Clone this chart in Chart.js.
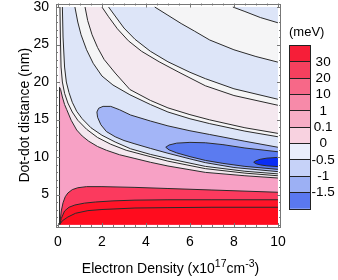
<!DOCTYPE html>
<html>
<head>
<meta charset="utf-8">
<script src="https://cdn.jsdelivr.net/npm/chart.js@4.4.0/dist/chart.umd.min.js"></script>
<style>
  html, body { margin: 0; padding: 0; background: #fff; }
  #wrap { position: relative; width: 338px; height: 280px; }
  #plot { position: absolute; left: 0; top: 0; }
  #bar { position: absolute; left: 277px; top: 0; }
</style>
</head>
<body>
<div id="wrap">
  <canvas id="plot" width="338" height="280"></canvas>
  <canvas id="bar" width="61" height="280"></canvas>
</div>
<script>
const family = "'Liberation Sans', Arial, Helvetica, sans-serif";
Chart.defaults.font.family = family;

// axes
const xTicks = [0, 2, 4, 6, 8, 10];
const yTicks = [5, 10, 15, 20, 25, 30];
const xRange = [0.05, 10];   // density covered by the map
const yRange = [1, 30];      // distance covered by the map

// contour lines: [density, distance]
const level30 = [[0.08,1.0],[0.2,1.5],[0.45,2.0],[0.8,2.5],[1.36,2.85],[2,3.0],[3.5,3.2],[5,3.25],[7,3.3],[10,3.3]];
const level20 = [[0.08,1.0],[0.15,1.8],[0.3,2.8],[0.5,3.3],[0.77,3.6],[1.2,3.85],[1.7,4.0],[2.5,4.15],[3.5,4.25],[5,4.3],[7,4.3],[10,4.3]];
const level10 = [[0.08,1.0],[0.1,1.5],[0.15,2.8],[0.23,3.9],[0.33,4.7],[0.45,5.2],[0.65,5.65],[0.9,5.9],[1.3,6.05],[2,6.05],[3.5,5.95],[5,5.8],[7,5.6],[10,5.3]];
const level1 = [[0.07,1.0],[0.07,19.3],[0.12,19.0],[0.2,18.0],[0.3,17.0],[0.4,16.3],[0.6,14.9],[0.85,13.6],[1.1,12.8],[1.4,12.1],[1.8,11.4],[2.2,10.9],[2.8,10.3],[3.5,9.8],[4.2,9.3],[5,8.8],[6,8.3],[6.7,7.95],[8.5,7.5],[10,7.2]];
const level01Low = [[0.09,30],[0.11,26],[0.14,22],[0.2,20],[0.3,18.5],[0.45,17.2],[0.65,16.0],[0.9,14.9],[1.3,13.7],[1.8,12.6],[2.4,11.7],[3.1,10.9],[4,10.2],[5,9.45],[6.7,8.45],[8.5,7.85],[10,7.5]];
const level0Low = [[0.2,30],[0.23,26],[0.3,22],[0.38,20],[0.5,18.6],[0.65,17.3],[0.85,16.1],[1.1,15.1],[1.5,13.9],[2.0,12.9],[2.6,12.0],[3.3,11.1],[4.2,10.35],[5,9.8],[6.7,8.75],[8.5,8.1],[10,7.75]];
const level0Mid = [[0.77,30],[0.9,28],[1.05,26.3],[1.3,24.3],[1.6,22.5],[2.0,20.8],[2.5,19.6],[3.27,18.3],[4.2,17.0],[5,16.0],[6,15.1],[6.9,14.45],[8.5,13.45],[10,12.7]];
const level01Mid = [[1.23,30],[1.35,28.2],[1.55,26.3],[1.8,24.6],[2.1,23.0],[2.6,21.2],[3.27,19.0],[4.2,17.55],[5,16.55],[6,15.65],[6.9,14.95],[8.5,13.9],[10,13.15]];
const level01High = [[2.0,30],[2.3,28.7],[2.7,27.1],[3.2,25.5],[3.8,24.1],[4.6,22.7],[5.5,21.3],[6.7,19.5],[8,18.2],[10,16.9]];
const level0High = [[2.3,30],[2.6,28.8],[3.0,27.2],[3.5,25.7],[4.2,24.1],[5,22.7],[6,21.3],[6.7,20.45],[8,19.1],[10,17.7]];
const level0Top = [[4.4,30],[5,28.9],[5.6,27.8],[6.2,26.8],[6.9,25.6],[8,24.3],[9,23.4],[10,22.65]];
const level0Corner = [[7.95,30],[8.5,29.4],[9.2,28.6],[10,27.9]];
// closed tongues of negative values (tip first)
const levelM05Up = [[1.77,16.0],[1.85,16.5],[2.05,16.75],[2.4,16.75],[2.8,16.3],[3.3,15.6],[4.2,14.8],[5,14.15],[6,13.5],[6.9,13.0],[8.5,12.1],[10,11.3]];
const levelM05Down = [[1.77,16.0],[1.8,15.3],[1.95,14.3],[2.2,13.4],[2.6,12.7],[3.0,12.2],[3.5,11.75],[4.2,11.15],[5,10.5],[6,9.75],[6.7,9.25],[8,8.6],[10,8.05]];
const levelM1Up = [[4.9,11.3],[5.05,11.6],[5.4,11.85],[6,11.95],[6.7,11.9],[7.5,11.65],[8.5,11.2],[10,10.7]];
const levelM1Down = [[4.9,11.3],[5.05,10.95],[5.4,10.55],[6,10.05],[6.7,9.55],[7.5,9.15],[8.5,8.75],[10,8.35]];
const levelM15Up = [[8.9,9.3],[9.0,9.5],[9.2,9.7],[9.5,9.85],[10,9.95]];
const levelM15Down = [[8.9,9.3],[9.0,9.1],[9.2,8.95],[9.5,8.82],[10,8.72]];

// colour key
const legendLevels = ["30", "20", "10", "1", "0.1", "0", "-0.5", "-1", "-1.5"];
const legendColors = ["#f61e38", "#f6405e", "#f76888", "#f78aa9", "#f7adc5", "#f8d2e0", "#eaeefb", "#c6d2f8", "#9cb0f4", "#5a78f0"];

const fillColors = {
  negHalf: "#dde5f8", zero: "#f5f5f6", tenth: "#f4e8ef", one: "#f7a1c5",
  ten: "#fb3a5e", twenty: "#ff1428", thirty: "#ff0c1e",
  m05: "#a3b5f7", m1: "#5b7bf0", m15: "#0a2df5"
};

const [x0, x1] = xRange, [y0, y1] = yRange;
const pts = a => a.map(([x, y]) => ({x, y}));
const under = c => [...c, [x1, y0]];
const underFromTop = c => [[x0, y1], ...c, [x1, y0], [x0, y0]];
const between = (lo, hi) => [...lo, ...hi.slice().reverse()];
const area = (a, color, order) => ({data: pts(a), showLine: true, fill: 'shape', backgroundColor: color,
  borderWidth: 0, borderColor: 'transparent', pointRadius: 0, order});
const contour = a => ({data: pts(a), showLine: true, fill: false, borderColor: '#2b2b2b',
  borderWidth: 1, pointRadius: 0, order: 0});

const datasets = [
  area([[x0, y0], [x1, y0], [x1, y1], [x0, y1]], fillColors.negHalf, 30),
  area(underFromTop(level0Low), fillColors.zero, 29),
  area(between(level0Mid, level0High), fillColors.zero, 29),
  area(between(level0Top, level0Corner), fillColors.zero, 29),
  area(underFromTop(level01Low), fillColors.tenth, 28),
  area(between(level01Mid, level01High), fillColors.tenth, 28),
  area(under(level1), fillColors.one, 27),
  area(under(level10), fillColors.ten, 26),
  area(under(level20), fillColors.twenty, 25),
  area(under(level30), fillColors.thirty, 24),
  area(between(levelM05Up, levelM05Down), fillColors.m05, 23),
  area(between(levelM1Up, levelM1Down), fillColors.m1, 22),
  area(between(levelM15Up, levelM15Down), fillColors.m15, 21),
];
[level30, level20, level10, level1, level01Low, level0Low, level0Mid, level01Mid, level01High, level0High, level0Top, level0Corner]
  .forEach(c => datasets.push(contour(c)));
[[levelM05Up, levelM05Down], [levelM1Up, levelM1Down], [levelM15Up, levelM15Down]]
  .forEach(([u, d]) => datasets.push(contour([...u.slice().reverse(), ...d.slice(1)])));

const framePlugin = {
  id: 'frame',
  afterDatasetsDraw(chart) {
    const {ctx, chartArea: a, scales: {x, y}} = chart;
    ctx.save();
    ctx.strokeStyle = '#777';
    ctx.lineWidth = 1;
    ctx.strokeRect(Math.round(a.left) + 0.5, Math.round(a.top) + 0.5,
      Math.round(a.right - a.left) - 1, Math.round(a.bottom - a.top) - 1);
    ctx.beginPath();
    for (let v = 0; v <= 10; v += 0.5) {
      const px = Math.round(x.getPixelForValue(v)) + 0.5;
      const len = v % 2 === 0 ? 4 : 2;
      ctx.moveTo(px, a.bottom); ctx.lineTo(px, a.bottom - len);
      ctx.moveTo(px, a.top); ctx.lineTo(px, a.top + len);
    }
    for (let v = 1; v <= 30; v += 1) {
      const py = Math.round(y.getPixelForValue(v)) + 0.5;
      const len = v % 5 === 0 ? 4 : 2;
      ctx.moveTo(a.left, py); ctx.lineTo(a.left + len, py);
      ctx.moveTo(a.right, py); ctx.lineTo(a.right - len, py);
    }
    ctx.stroke();
    ctx.restore();
  },
  afterDraw(chart) {
    // x title with superscripts
    const {ctx, chartArea: a} = chart;
    const parts = [['Electron Density (x10', 14, 0], ['17', 10.5, -6], ['cm', 14, 0], ['-3', 10.5, -6], [')', 14, 0]];
    ctx.save();
    ctx.fillStyle = '#000';
    ctx.textBaseline = 'alphabetic';
    let total = 0;
    parts.forEach(([t, s]) => { ctx.font = s + 'px ' + family; total += ctx.measureText(t).width; });
    let xx = (a.left + a.right) / 2 + 2 - total / 2;
    parts.forEach(([t, s, dy]) => {
      ctx.font = s + 'px ' + family;
      ctx.fillText(t, xx, 273 + dy);
      xx += ctx.measureText(t).width;
    });
    ctx.restore();
  }
};

new Chart(document.getElementById('plot'), {
  type: 'scatter',
  data: {datasets},
  options: {
    responsive: false,
    animation: false,
    events: [],
    layout: {padding: {left: 0, right: 57, top: 3.5, bottom: 0}},
    plugins: {legend: {display: false}, tooltip: {enabled: false}},
    scales: {
      x: {
        type: 'linear', min: -0.09, max: 10.14,
        afterBuildTicks: s => { s.ticks = xTicks.map(v => ({value: v})); },
        afterFit: s => { s.height = 53; s.paddingLeft = 0; s.paddingRight = 0; },
        grid: {display: false, drawTicks: false},
        border: {display: false},
        ticks: {color: '#000', font: {size: 14}, padding: 7, maxRotation: 0, autoSkip: false}
      },
      y: {
        type: 'linear', min: 0.667, max: 30.47,
        afterBuildTicks: s => { s.ticks = yTicks.map(v => ({value: v})); },
        afterFit: s => { s.width = 56; s.paddingTop = 0; s.paddingBottom = 0; },
        grid: {display: false, drawTicks: false},
        border: {display: false},
        ticks: {color: '#000', font: {size: 14}, padding: 7, autoSkip: false},
        title: {display: true, text: 'Dot-dot distance (nm)', color: '#000', font: {size: 14},
          padding: {top: 17, bottom: 0}}
      }
    }
  },
  plugins: [framePlugin]
});

new Chart(document.getElementById('bar'), {
  type: 'bar',
  data: {
    labels: [''],
    datasets: legendColors.slice().reverse().map(c => ({
      data: [1], backgroundColor: c, borderWidth: 0, barPercentage: 1, categoryPercentage: 1
    }))
  },
  options: {
    responsive: false,
    animation: false,
    events: [],
    layout: {padding: {left: 12, right: 0, top: 2, bottom: 71}},
    plugins: {
      legend: {display: false},
      tooltip: {enabled: false},
      title: {display: true, text: '(meV)', color: '#000', align: 'start',
        font: {size: 13, weight: 'normal'}, padding: {top: 23, bottom: 5}}
    },
    scales: {
      x: {stacked: true, display: false},
      y: {
        stacked: true, position: 'right', min: 0, max: 10,
        afterBuildTicks: s => { s.ticks = [0,1,2,3,4,5,6,7,8,9,10].map(v => ({value: v})); },
        afterFit: s => { s.width = 28; s.paddingTop = 0; s.paddingBottom = 0; },
        grid: {color: '#222', lineWidth: 1, drawTicks: false, z: 1},
        border: {color: '#222', z: 1},
        ticks: {color: '#000', font: {size: 13.5}, padding: 1.5, crossAlign: 'center', autoSkip: false,
          callback: v => (v >= 1 && v <= 9) ? legendLevels[9 - v] : ''}
      },
      yl: {
        position: 'left', min: 0, max: 10,
        afterFit: s => { s.width = 0; },
        ticks: {display: false},
        grid: {display: false, drawTicks: false},
        border: {color: '#222', z: 1}
      }
    }
  }
});
</script>
</body>
</html>
